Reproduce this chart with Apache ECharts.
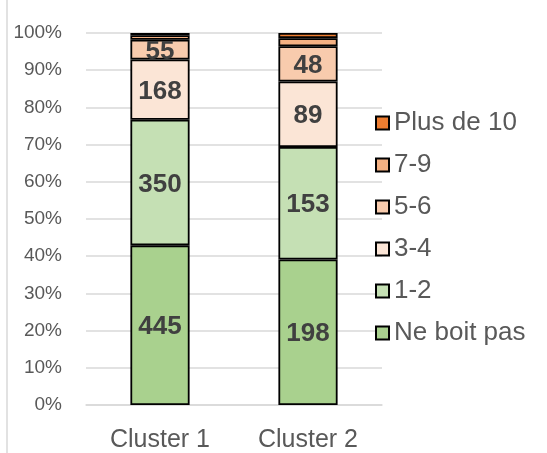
<!DOCTYPE html>
<html>
<head>
<meta charset="utf-8">
<script src="https://cdn.jsdelivr.net/npm/echarts@6/dist/echarts.min.js"></script>
<style>
html, body { margin: 0; padding: 0; background: #fff; }
#main { width: 547px; height: 453px; }
</style>
</head>
<body>
<div id="main"></div>
<script>
var clusters = ['Cluster 1', 'Cluster 2'];
var seriesNames = ['Ne boit pas', '1-2', '3-4', '5-6', '7-9', 'Plus de 10'];
var neBoitPas = [445, 198];
var unDeux = [350, 153];
var troisQuatre = [168, 89];
var cinqSix = [55, 48];
var septNeuf = [13, 11];
var plusDix = [6, 7];
var yTicks = ['0%', '10%', '20%', '30%', '40%', '50%', '60%', '70%', '80%', '90%', '100%'];

var counts = [neBoitPas, unDeux, troisQuatre, cinqSix, septNeuf, plusDix];
var colors = ['#A9D18E', '#C5E0B4', '#FBE5D6', '#F8CBAD', '#F4B183', '#ED7D31'];
var showLabel = [true, true, true, true, false, false];

var totals = clusters.map(function (c, i) {
	var s = 0;
	counts.forEach(function (arr) { s += arr[i]; });
	return s;
});

var series = counts.map(function (arr, k) {
	return {
		name: seriesNames[k],
		type: 'bar',
		stack: 'all',
		barWidth: '40%',
		data: arr.map(function (v, i) {
			return { value: v / totals[i] * 100, count: v };
		}),
		itemStyle: {
			color: colors[k],
			borderColor: '#000',
			borderWidth: 1.8
		},
		label: {
			show: showLabel[k],
			position: 'inside',
			offset: [0, 2],
			fontFamily: 'Liberation Sans, Arial',
			fontSize: 26,
			fontWeight: 'bold',
			color: '#404040',
			formatter: function (p) { return p.data.count; }
		}
	};
});

var myChart = echarts.init(document.getElementById('main'));

var option = {
	animation: false,
	grid: {
		left: 86,
		right: 165,
		top: 33,
		bottom: 47
	},
	graphic: [{
		type: 'line',
		shape: { x1: 7, y1: 0, x2: 7, y2: 453 },
		style: { stroke: '#d9d9d9', lineWidth: 1.5 }
	}],
	legend: {
		orient: 'vertical',
		left: 375,
		top: 110,
		padding: 0,
		data: seriesNames.slice().reverse(),
		icon: 'rect',
		itemWidth: 13,
		itemHeight: 13,
		itemGap: 16,
		textStyle: {
			fontFamily: 'Liberation Sans, Arial',
			fontSize: 26,
			lineHeight: 26,
			color: '#595959'
		}
	},
	xAxis: {
		type: 'category',
		data: clusters,
		axisLine: { lineStyle: { color: '#d9d9d9', width: 1.5 } },
		axisTick: { show: false },
		axisLabel: {
			fontFamily: 'Liberation Sans, Arial',
			fontSize: 25,
			color: '#595959',
			margin: 23
		}
	},
	yAxis: {
		type: 'value',
		min: 0,
		max: 100,
		interval: 10,
		axisLine: { show: false },
		axisTick: { show: false },
		splitLine: { lineStyle: { color: '#d9d9d9', width: 1.5 } },
		axisLabel: {
			fontFamily: 'Liberation Sans, Arial',
			fontSize: 19,
			color: '#595959',
			margin: 24,
			formatter: function (v) { return yTicks[Math.round(v / 10)]; }
		}
	},
	series: series
};

myChart.setOption(option);
</script>
</body>
</html>
